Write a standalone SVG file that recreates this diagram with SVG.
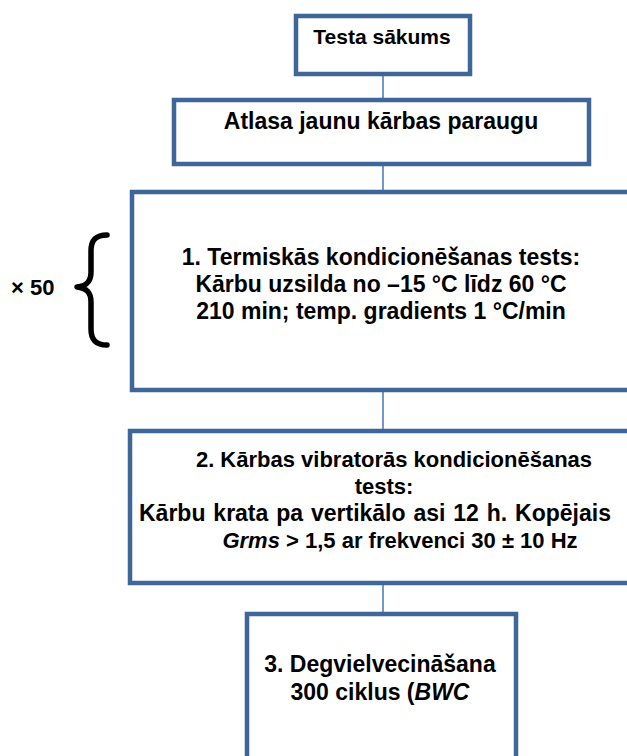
<svg xmlns="http://www.w3.org/2000/svg" width="627" height="756" viewBox="0 0 627 756">
  <style>
    .box { fill: #ffffff; stroke: #3F6699; stroke-width: 4.5; }
    .conn { stroke: #6F98CC; stroke-width: 2; fill: none; }
    .t { font-family: "Liberation Sans", Arial, sans-serif; font-weight: bold; fill: #000000; text-anchor: middle; }
    .s23 { font-size: 23px; }
    .s22 { font-size: 22px; }
    .s21 { font-size: 21px; }
  </style>
  <rect width="627" height="756" fill="#ffffff"/>
  <g id="connectors">
    <line class="conn" x1="383" y1="74" x2="383" y2="100"/>
    <line class="conn" x1="383" y1="164" x2="383" y2="192"/>
    <line class="conn" x1="383" y1="390" x2="383" y2="431"/>
    <line class="conn" x1="383" y1="583" x2="383" y2="614"/>
  </g>
  <g id="start">
    <rect class="box" x="296" y="16" width="174" height="58"/>
    <text class="t s21" x="382" y="44">Testa sākums</text>
  </g>
  <g id="select">
    <rect class="box" x="174" y="100" width="415" height="64"/>
    <text class="t s23" x="381" y="129">Atlasa jaunu kārbas paraugu</text>
  </g>
  <g id="repeat">
    <text class="t s22" x="11" y="295" style="text-anchor:start">× 50</text>
    <path d="M107,235 C96,235 91,240 91,251 L91,272 C91,282 86,286 77,287 C86,288 91,292 91,302 L91,329 C91,340 96,345 107,345" fill="none" stroke="#000000" stroke-width="5.5" stroke-linecap="round" stroke-linejoin="round"/>
  </g>
  <g id="step1">
    <rect class="box" x="132" y="192" width="530" height="198"/>
    <text class="t s23" x="381" y="265">1. Termiskās kondicionēšanas tests:</text>
    <text class="t s23" x="381" y="292">Kārbu uzsilda no –15 °C līdz 60 °C</text>
    <text class="t s23" x="381" y="319">210 min; temp. gradients 1 °C/min</text>
  </g>
  <g id="step2">
    <rect class="box" x="130" y="431" width="530" height="152"/>
    <text class="t s22" x="394" y="467">2. Kārbas vibratorās kondicionēšanas</text>
    <text class="t s22" x="384" y="494">tests:</text>
    <text class="t s23" x="375" y="521" word-spacing="1.5">Kārbu krata pa vertikālo asi 12 h. Kopējais</text>
    <text class="t s22" x="400" y="548"><tspan font-style="italic">Grms</tspan> &gt; 1,5 ar frekvenci 30 ± 10 Hz</text>
  </g>
  <g id="step3">
    <rect class="box" x="247" y="614" width="269" height="180"/>
    <text class="t s23" x="380" y="672">3. Degvielvecināšana</text>
    <text class="t s23" x="380" y="700">300 ciklus (<tspan font-style="italic">BWC</tspan></text>
  </g>
</svg>
